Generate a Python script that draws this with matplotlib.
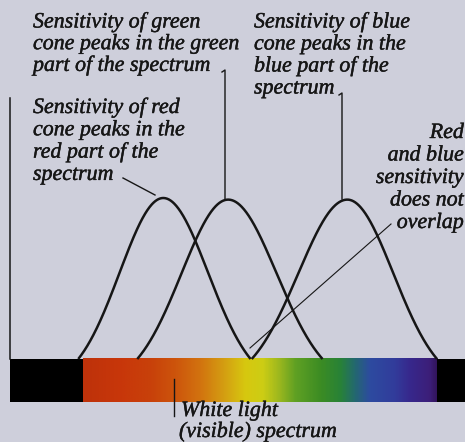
import numpy as np
import matplotlib
matplotlib.use("Agg")
import matplotlib.pyplot as plt
import matplotlib.patheffects as pe
from matplotlib.colors import LinearSegmentedColormap
from matplotlib.patches import Rectangle

# Cone sensitivity curves (wavelength in nm): long-wave foot, peak, short-wave foot
cones = ["red", "green", "blue"]
foot_long_nm = [704, 654, 557]
peak_nm = [632, 577, 476]
foot_short_nm = [558, 497, 400]
peak_height = [1.0, 0.99, 0.99]

# Colours across the visible band
band_nm = [700, 668, 643, 622, 601, 580, 563, 548, 535, 520, 499, 482, 470, 457, 436, 423, 406, 400]
band_rgb = [(190, 50, 10), (200, 55, 10), (200, 65, 10), (205, 85, 12), (210, 115, 15),
            (212, 160, 18), (215, 200, 15), (205, 205, 20), (160, 185, 30), (95, 160, 35),
            (60, 140, 35), (40, 130, 55), (35, 105, 110), (45, 75, 160), (50, 60, 155),
            (55, 40, 140), (60, 30, 120), (50, 20, 90)]
visible_nm = (700, 400)

# Figure geometry (pixels)
W, H = 465, 442
BG = "#cecfdb"
INK = "#161616"
X_RED, X_VIOLET = 83, 437          # pixel columns of 700 nm and 400 nm
Y_BASE, UNIT = 359, 161            # baseline row and pixels per unit sensitivity
nm_per_px = (visible_nm[0] - visible_nm[1]) / (X_VIOLET - X_RED)


def px(xp, yp):
    """Pixel position -> data coordinates."""
    return (visible_nm[0] - (xp - X_RED) * nm_per_px, (Y_BASE - yp) / UNIT)


fig = plt.figure(figsize=(W / 100, H / 100), dpi=100, facecolor=BG)
ax = fig.add_axes([0, 0, 1, 1], facecolor=BG)
ax.set_xlim(px(0, 0)[0], px(W, 0)[0])
ax.set_ylim(px(0, H)[1], px(0, 0)[1])
ax.axis("off")

# Visible spectrum band
bar_h = 43 / UNIT
stops = [(visible_nm[0] - n) / (visible_nm[0] - visible_nm[1]) for n in band_nm]
cmap = LinearSegmentedColormap.from_list(
    "visible", [(s, tuple(c / 255 for c in rgb)) for s, rgb in zip(stops, band_rgb)])
grad = np.linspace(0, 1, 600)[None, :]
ax.imshow(grad, cmap=cmap, aspect="auto", interpolation="bilinear",
          extent=[visible_nm[0], visible_nm[1], -bar_h, 0], zorder=1)
left_edge = px(10, 0)[0]
ax.add_patch(Rectangle((visible_nm[0], -bar_h), left_edge - visible_nm[0], bar_h,
                       color="black", lw=0, zorder=2))
ax.add_patch(Rectangle((visible_nm[1], -bar_h), px(W + 5, 0)[0] - visible_nm[1], bar_h,
                       color="black", lw=0, zorder=2))

# Vertical axis line
ax.plot([left_edge, left_edge], [0, px(0, 98)[1]], color=INK, lw=1.1, zorder=3)


def bell(lam, f_long, pk, f_short, h, k=1.95):
    half = np.where(lam >= pk, f_long - pk, pk - f_short)
    s = half / k
    g = np.exp(-((lam - pk) ** 2) / (2 * s ** 2))
    g0 = np.exp(-k ** 2 / 2)
    return h * (g - g0) / (1 - g0)


for fl, pk, fs, h in zip(foot_long_nm, peak_nm, foot_short_nm, peak_height):
    lam = np.linspace(fl, fs, 400)
    ax.plot(lam, bell(lam, fl, pk, fs, h), color=INK, lw=1.8,
            solid_capstyle="butt", zorder=4)

# Leader lines
def leader(points, lw=1.0):
    xs, ys = zip(*[px(*p) for p in points])
    ax.plot(xs, ys, color=INK, lw=lw, zorder=5)

leader([(222, 72), (225, 70), (225, 199)])
leader([(339, 95), (342, 93), (342, 199)])
leader([(123, 178), (155, 195)])
leader([(391, 224), (250, 348)], lw=0.8)
leader([(174, 379), (174, 416)])

# Labels
font = dict(family="Liberation Serif", style="italic", size=15.8, color=INK,
            path_effects=[pe.withStroke(linewidth=0.3, foreground=INK)])


def label(lines, x, y0, step=22, ha="left"):
    for i, t in enumerate(lines):
        fig.text(x / W, 1 - (y0 + i * step) / H, t, ha=ha, va="baseline", **font)


label(["Sensitivity of green", "cone peaks in the green", "part of the spectrum"], 33, 27.5, 21.7)
label(["Sensitivity of blue", "cone peaks in the", "blue part of the", "spectrum"], 254, 27.5, 22)
label(["Sensitivity of red", "cone peaks in the", "red part of the", "spectrum"], 33, 113, 22.3)
label(["Red", "and blue", "sensitivity", "does not", "overlap"], 464, 138, 22.5, ha="right")
label(["White light"], 181, 416)
label(["(visible) spectrum"], 179, 437)

fig.savefig("out.png", dpi=100, facecolor=BG)
